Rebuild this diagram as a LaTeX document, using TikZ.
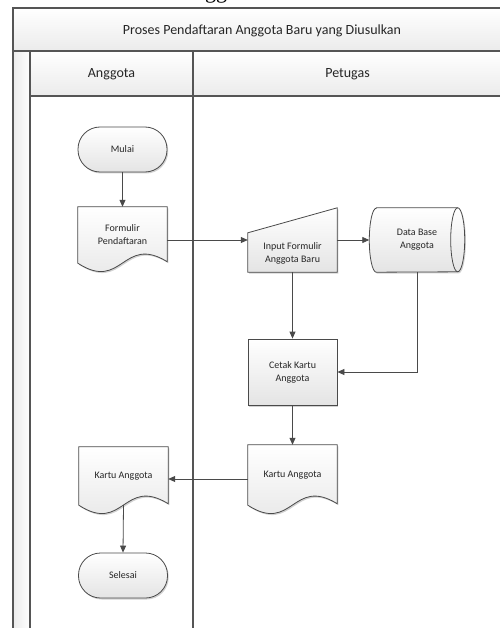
\documentclass[tikz,border=0pt]{standalone}
\usepackage{fontspec}
\setmainfont{Carlito}
\newfontfamily\capfont{Liberation Serif}
\usetikzlibrary{arrows.meta,shadows,calc}

\definecolor{laneline}{HTML}{555555}
\definecolor{shapeline}{HTML}{4A4A4A}
\definecolor{shapefill}{HTML}{E4E4E4}
\definecolor{bandfill}{HTML}{EBEBEB}
\definecolor{textgray}{HTML}{262626}

\pgfdeclarelayer{lanes}
\pgfdeclarelayer{shapes}
\pgfsetlayers{lanes,shapes,main}

\tikzset{
  lane/.style={draw=laneline, line width=1.1pt},
  headtext/.style={font=\fontsize{14}{16}\selectfont, text=textgray, inner sep=0pt},
  shapebody/.style={draw=shapeline, line width=0.8pt, top color=white, bottom color=shapefill,
    drop shadow={shadow xshift=1.2pt, shadow yshift=-1.5pt, opacity=0.18, fill=black}},
  txt/.style={font=\fontsize{10}{13}\selectfont, text=textgray, align=center, inner sep=0pt},
  holder/.style={txt, minimum width=89pt},
  term/.style={holder, shapebody, rounded corners=22pt, minimum height=45pt},
  procbox/.style={holder, shapebody, minimum height=66pt},
  flow/.style={draw=shapeline, line width=0.8pt, -{Triangle[length=7pt,width=6pt]}},
}

% document symbol with a wavy lower edge, drawn round a named node
\newcommand\docshape[1]{%
  \path[shapebody] (#1.north west) -- (#1.north east) -- ([yshift=1.5pt]#1.south east)
    .. controls ($(#1.south)+(0pt,29pt)$) and ($(#1.south)+(0pt,-29pt)$) .. (#1.south west) -- cycle;}

\begin{document}
\begin{tikzpicture}[x=1pt,y=-1pt]
\useasboundingbox (0,0) rectangle (499,628);

% caption line of the previous block, cut at the top
\node[anchor=base west, font=\capfont\fontsize{22}{24}\selectfont, inner sep=0pt] (potongan) at (178,-1) {Anggota};

% swimlane frame
\begin{pgfonlayer}{lanes}
  \path[top color=white, bottom color=bandfill] (13,8) rectangle (504,51);
  \path[top color=white, bottom color=bandfill] (30,51) rectangle (504,96);
  \path[left color=bandfill, right color=white] (13,51) rectangle (30,632);
  \draw[lane] (504,8) -- (13,8) -- (13,632);
  \draw[lane] (13,51) -- (504,51);
  \draw[lane] (30,51) -- (30,632);
  \draw[lane] (193,51) -- (193,632);
  \draw[lane] (30,96) -- (504,96);
\end{pgfonlayer}

\node[headtext] (judul) at (262,31) {Proses Pendaftaran Anggota Baru yang Diusulkan};
\node[headtext] (laneA) at (111.5,74) {Anggota};
\node[headtext] (laneP) at (347.5,74) {Petugas};

% Anggota lane
\node[term] (mulai) at (122.5,149.5) {Mulai};
\node[holder, minimum height=56pt] (formulir) at (122.5,235) {Formulir\\Pendaftaran};
\node[holder, minimum height=58pt] (kartuA) at (123.5,476) {Kartu Anggota};
\node[term] (selesai) at (123,575.5) {Selesai};

% Petugas lane
\node[holder, minimum height=64pt] (input) at (292.5,240) {};
\node[txt] (inputtxt) at ([yshift=-13pt]input.center) {Input Formulir\\Anggota Baru};
\node[txt, minimum width=81pt, minimum height=64pt] (db) at (417,240) {Data Base\\Anggota};
\node[procbox] (cetak) at (292.5,372) {Cetak Kartu\\Anggota};
\node[holder, minimum height=60pt] (kartuP) at (292.5,475) {Kartu Anggota};

\begin{pgfonlayer}{shapes}
  \docshape{formulir}
  \docshape{kartuA}
  \docshape{kartuP}
  % manual input: slanted top edge
  \path[shapebody] (input.south west) -- ([yshift=-25pt]input.north west) -- (input.north east)
    -- (input.south east) -- cycle;
  % stored data: horizontal cylinder
  \path[shapebody] (db.north west) -- (db.north east)
    arc[start angle=90, end angle=-90, x radius=7pt, y radius=32pt]
    -- (db.south west)
    arc[start angle=270, end angle=90, x radius=7pt, y radius=32pt] -- cycle;
  \draw[draw=shapeline, line width=0.8pt] (db.north east)
    arc[start angle=90, end angle=270, x radius=7pt, y radius=32pt];
\end{pgfonlayer}

% flow
\draw[flow] (mulai.south) -- (formulir.north);
\draw[flow] (formulir.east |- input.west) -- (input.west);
\draw[flow] (input.east) -- ([xshift=-7pt]db.west);
\draw[flow] (input.south) -- (cetak.north);
\draw[flow] (db.south) |- (cetak.east);
\draw[flow] (cetak.south) -- (kartuP.north);
\draw[flow] ([yshift=-4pt]kartuP.west) -- ([yshift=-4pt]kartuP.west -| kartuA.east);
\draw[flow] (kartuA.south) -- (selesai.north);
\end{tikzpicture}
\end{document}
